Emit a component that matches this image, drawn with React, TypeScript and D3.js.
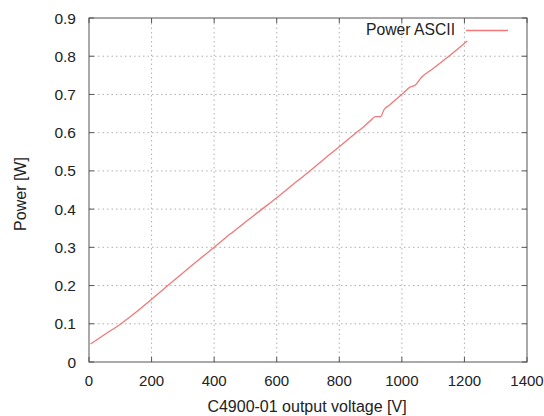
import React from "react";
import * as d3 from "d3";

const voltage = [5, 50, 100, 150, 200, 250, 300, 350, 400, 450, 500, 550, 600, 650, 700, 750, 800, 850, 880, 900, 915, 932, 943, 960, 980, 1004, 1026, 1042, 1063, 1100, 1150, 1209];
const power = [0.047, 0.072, 0.099, 0.13, 0.164, 0.199, 0.233, 0.267, 0.3, 0.334, 0.366, 0.398, 0.43, 0.463, 0.496, 0.53, 0.563, 0.597, 0.617, 0.632, 0.642, 0.642, 0.66, 0.672, 0.686, 0.703, 0.719, 0.724, 0.745, 0.768, 0.8, 0.84];
const xTicks = [0, 200, 400, 600, 800, 1000, 1200, 1400];
const yTicks = [0, 0.1, 0.2, 0.3, 0.4, 0.5, 0.6, 0.7, 0.8, 0.9];
const seriesName = "Power ASCII";
const xTitle = "C4900-01 output voltage [V]";
const yTitle = "Power [W]";

export default function App() {
  const W = 544, H = 416;
  const L = 89, R = 527, T = 18, B = 362;
  const x = d3.scaleLinear().domain([0, 1400]).range([L, R]);
  const y = d3.scaleLinear().domain([0, 0.9]).range([B, T]);
  const pts = voltage.map((v, i) => [v, power[i]] as [number, number]);
  const line = d3.line<[number, number]>().x(d => x(d[0])).y(d => y(d[1])).curve(d3.curveMonotoneX);
  const font = "'Liberation Sans', Arial, sans-serif";
  const grid = "#b0b0b0";
  const axisC = "#555";
  const txt = "#222";
  const lineC = "#f07878";
  return (
    <svg width={W} height={H} style={{ position: "absolute", left: 0, top: 0, background: "#fff" }} fontFamily={font}>
      {xTicks.slice(1, -1).map(t => (
        <line key={"gx" + t} x1={x(t)} x2={x(t)} y1={B} y2={T} stroke={grid} strokeWidth={1} strokeDasharray="1.5,3" />
      ))}
      {yTicks.slice(1, -1).map(t => (
        <line key={"gy" + t} x1={L} x2={R} y1={y(t)} y2={y(t)} stroke={grid} strokeWidth={1} strokeDasharray="1.5,3" />
      ))}
      {xTicks.map(t => (
        <g key={"tx" + t}>
          <line x1={x(t)} x2={x(t)} y1={B} y2={B - 5} stroke={axisC} />
          <line x1={x(t)} x2={x(t)} y1={T} y2={T + 5} stroke={axisC} />
          <text x={x(t)} y={B + 24} textAnchor="middle" fontSize={15} fill={txt}>{t}</text>
        </g>
      ))}
      {yTicks.map(t => (
        <g key={"ty" + t}>
          <line x1={L} x2={L + 5} y1={y(t)} y2={y(t)} stroke={axisC} />
          <line x1={R} x2={R - 5} y1={y(t)} y2={y(t)} stroke={axisC} />
          <text x={L - 13} y={y(t) + 5.5} textAnchor="end" fontSize={15.5} fill={txt}>{t}</text>
        </g>
      ))}
      <rect x={L} y={T} width={R - L} height={B - T} fill="none" stroke={axisC} strokeWidth={1} />
      <path d={line(pts) || ""} fill="none" stroke={lineC} strokeWidth={1.3} />
      <text x={455} y={35} textAnchor="end" fontSize={15.7} fill={txt}>{seriesName}</text>
      <line x1={466} x2={508} y1={30.5} y2={30.5} stroke={lineC} strokeWidth={1.3} />
      <text x={307} y={412} textAnchor="middle" fontSize={16} fill={txt}>{xTitle}</text>
      <text transform={`translate(26,194) rotate(-90)`} textAnchor="middle" fontSize={16} fill={txt}>{yTitle}</text>
    </svg>
  );
}
